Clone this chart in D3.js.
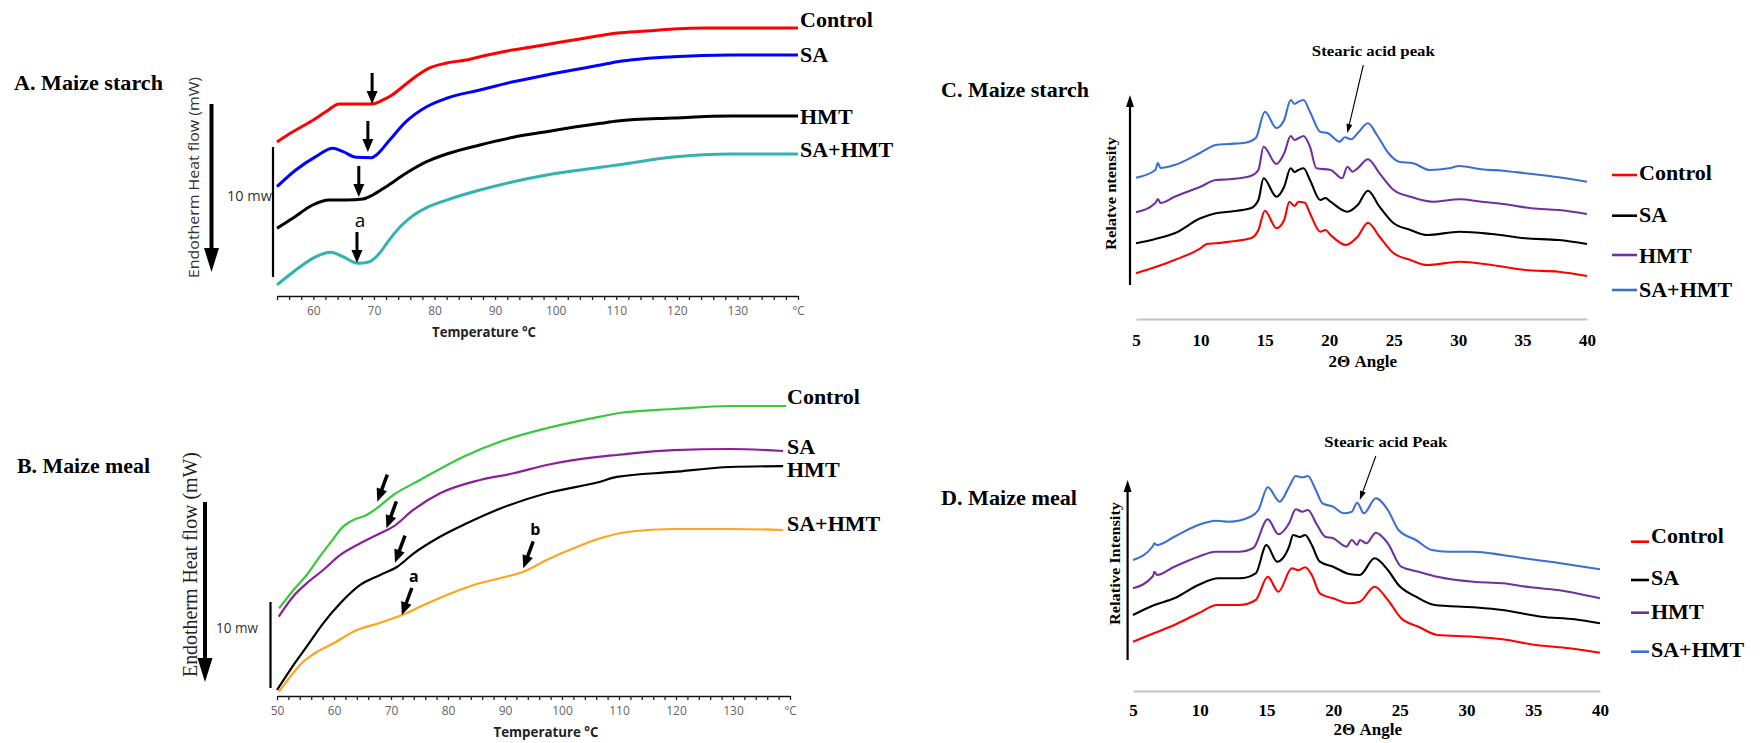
<!DOCTYPE html>
<html><head><meta charset="utf-8">
<script src="https://cdn.jsdelivr.net/npm/d3@7"></script>
<style>body{margin:0;background:#fff}svg{display:block}</style>
</head><body>
<svg id="chart" width="1760" height="743"></svg>
<script>
// ================= DATA =================
const seriesNames = ["Control", "SA", "HMT", "SA+HMT"];

// A. Maize starch DSC: [temperature °C, heat flow (mW, relative)]
const starchControl = [[54,11.85],[56,12.46],[58,13.0],[60,13.54],[62,14.15],[64.3,14.77],[67,14.77],[69.7,14.77],[71.5,15.08],[73,15.46],[75.3,16.31],[77.5,17.08],[79.2,17.54],[82,17.92],[85.2,18.15],[88,18.46],[92,18.85],[96,19.15],[100.9,19.54],[105,19.85],[110.2,20.23],[115,20.38],[119.4,20.54],[125,20.62],[130,20.62],[140,20.62]];
const starchSA = [[54,8.41],[57.1,9.69],[60.4,10.72],[63.2,11.36],[64.9,11.1],[67.1,10.67],[69.6,10.64],[70.4,10.85],[72.6,12.0],[75.3,13.41],[78.7,14.56],[82,15.21],[87.5,15.85],[93,16.48],[98.5,17.0],[107.4,17.77],[110.2,18.02],[119.4,18.41],[128.9,18.54],[140,18.54]];
const starchHMT = [[54,5.21],[56.6,5.98],[59.9,7.0],[62.6,7.38],[65.4,7.38],[68.2,7.46],[69.8,7.77],[72,8.41],[75.3,9.44],[78.7,10.33],[82,10.92],[87.5,11.62],[93,12.21],[98.5,12.64],[107.4,13.28],[110.2,13.46],[119.4,13.69],[128.9,13.85],[140,13.85]];
const starchSAHMT = [[54,0.85],[57.1,2.0],[59.9,2.9],[62.9,3.36],[64.9,3.02],[67.3,2.52],[69.3,2.64],[70.9,3.28],[72.5,4.3],[74.5,5.4],[76.5,6.2],[78.7,6.8],[82,7.38],[87.5,8.15],[93,8.79],[98.5,9.31],[107.4,9.9],[110.2,10.08],[119.4,10.69],[128.9,10.92],[140,10.92]];
const starchOnsetT = [69.7, 69.0, 67.5, 67.2];
const starchOnsetV = [14.77, 11.08, 7.62, 2.54];
const starchOnsetLabel = ["", "", "", "a"];

// B. Maize meal DSC
const mealControl = [[50.35,10.19],[52.9,12.33],[55.2,14.07],[57.5,16.2],[59.3,17.76],[61.6,19.69],[63.4,20.47],[65.7,21.05],[67.5,21.83],[70.4,23.37],[75.1,25.12],[82.7,27.83],[89.1,29.57],[97.3,31.13],[106.7,32.48],[110,32.91],[119.5,33.37],[129.5,33.72],[139.3,33.72]];
const mealSA = [[50.3,9.22],[52.8,11.55],[55.2,13.1],[58.1,14.65],[61.1,16.4],[64.6,17.76],[68.1,18.92],[70.4,19.69],[73.9,21.63],[78.6,23.57],[85.6,25.12],[91.5,25.9],[97.3,26.86],[106.7,27.83],[109.6,28.02],[119.5,28.6],[129.5,28.72],[138.8,28.49]];
const mealHMT = [[50,0.7],[52.3,3.02],[55.2,5.73],[58.1,8.45],[61.1,10.78],[64.6,12.91],[68.1,14.07],[71.1,15.03],[74,16.59],[78.6,18.52],[83.3,20.08],[89.3,21.83],[97.3,23.57],[106.7,24.92],[109.6,25.47],[119.5,26.05],[129.5,26.63],[138.8,26.74]];
const mealSAHMT = [[50.35,0.5],[52.3,2.24],[54.6,3.99],[56.4,4.88],[59.9,6.13],[64,7.67],[68.1,8.52],[71.9,9.42],[75.1,10.38],[79.8,11.74],[84.5,12.91],[89.1,13.69],[93.2,14.45],[97.3,15.81],[102,17.17],[106.7,18.34],[111.7,19.1],[119.5,19.42],[129.5,19.42],[138.8,19.3]];
const mealOnsetT = [67.6, 69.2, 70.7, 71.9, 93.2];
const mealOnsetV = [22.6, 19.5, 15.5, 9.42, 14.85];
const mealOnsetLabel = ["", "", "", "a", "b"];

const dscTickLabels = [50,60,70,80,90,100,110,120,130];

// C. Maize starch XRD: [2θ, relative intensity]
const xrdStarchControl = [[5,45.7],[6.5,52],[8,59],[10,70.7],[10.5,75],[11.2,75.7],[12.2,77.3],[13.9,80.7],[14.5,89],[15.0,108.3],[15.9,90.7],[16.5,99],[16.9,117.3],[17.3,113],[17.6,117.3],[18.1,116.3],[18.5,105.7],[19.3,87.3],[19.7,89],[20.1,84],[21.3,74],[22.2,82.3],[23.0,96.3],[23.9,82.3],[25,65.7],[26.3,59],[27.6,54],[30.1,57.3],[32.6,54],[35.2,49],[37.8,47.3],[40,43]];
const xrdStarchSA = [[5,75.7],[6.5,80],[8,85.7],[10,100.7],[11.2,105.7],[12.2,107.3],[13.9,110.7],[14.5,119],[14.9,140.7],[15.9,122.3],[16.5,132.3],[17,150.7],[17.3,147],[17.6,149],[18,150.7],[18.5,139],[19.3,119],[19.7,121],[20.1,117.3],[21.4,107.3],[22.2,114],[23,128.3],[23.9,112.3],[25,95.7],[26.3,89],[27.6,84],[30.1,87.3],[32.6,85],[35.2,80.7],[37.8,79],[40,75]];
const xrdStarchHMT = [[5,106.7],[6.5,116],[6.7,120],[6.9,116],[8,122.3],[10,132.3],[11.2,139],[12.2,139.7],[13.9,143],[14.5,149],[14.9,172.3],[15.9,155],[16.5,165.7],[17,183],[17.3,179],[17.6,180.7],[18,183],[18.5,172.3],[19,150.7],[20.1,149],[21,140.7],[21.4,152.3],[21.8,147.3],[22.2,150.7],[23,159.7],[23.9,145.7],[25,129],[26.3,122.3],[28,117.3],[30.1,119.7],[31.8,117.3],[33.5,115],[35.7,110.7],[37.8,109],[40,105]];
const xrdStarchSAHMT = [[5,141.3],[6.5,149],[6.7,156],[6.9,151],[8,154],[10,166.3],[11.2,174],[12.2,175],[13.5,176.3],[14.3,181],[15,207.3],[15.9,191],[16.5,199],[17,219],[17.3,215],[17.6,217.3],[18,219],[18.5,207.3],[19.3,187.3],[19.9,185.7],[20.8,177.3],[21.2,181.7],[21.7,179.7],[22.2,185.7],[23,195.7],[23.7,184],[24.6,165.7],[25.4,157.3],[26.5,155.7],[27.8,149],[29.3,150.7],[30.1,153],[31.8,149.7],[33.5,148.3],[35.2,145.7],[37.8,141.7],[40,137.3]];

// D. Maize meal XRD
const xrdMealControl = [[5,49.3],[6.6,58],[8.1,66],[9.9,77.7],[11.3,86],[13,86],[14.2,91],[15.1,114.3],[15.9,99.3],[16.9,122.7],[17.4,121],[17.9,123.7],[18.4,116],[19,97.7],[20,92.7],[21.2,87.7],[22,89.3],[23.1,104.3],[24.1,91],[25.1,72.7],[26.4,64.3],[27.8,56],[30.5,54.3],[32.7,51.7],[35.2,46],[37.7,42.7],[40,38.3]];
const xrdMealSA = [[5,76],[6.6,86],[8.1,92.7],[9.9,106],[11.4,112.7],[13,112.7],[14.2,117.7],[15,146],[15.8,129.3],[16.7,144.3],[17,156],[17.5,154],[17.9,156],[18.4,146],[19,129.3],[20,124.3],[21.2,117],[22,116],[23.1,132.7],[24.1,121],[24.9,106],[26.2,94.3],[27.6,86],[30.5,83.7],[32.7,81],[35.6,74.3],[38.1,71.7],[40,67.7]];
const xrdMealHMT = [[5,102.7],[6.5,115],[6.6,119.3],[6.8,116],[8.1,124.3],[9.9,134.3],[11.2,139.3],[13,139.3],[14,142.7],[15.1,171.7],[15.9,156.7],[16.7,167.7],[17.2,181.7],[17.7,179.3],[18.1,181],[18.8,166],[19.4,154.3],[20,152.7],[21,144.3],[21.4,151],[21.8,146],[22,151],[22.5,147.7],[23.2,158.3],[24.1,147.7],[25.1,124.3],[26.4,119.3],[27.8,114.3],[30.5,109.3],[32.7,107.7],[34.8,103.7],[36.8,101],[40,92.7]];
const xrdMealSAHMT = [[5,131],[6.5,145],[6.6,147.7],[6.8,146],[8.1,154.3],[9.9,166],[11.2,170.3],[12.2,169.3],[13.8,174.3],[14.4,181],[15.1,203.7],[16,189.3],[16.7,204.3],[17.2,215],[17.7,213.7],[18.1,215],[18.7,201],[19.2,187.7],[20,184.3],[20.8,177.7],[21.4,179.3],[21.8,188.3],[22.3,177.7],[23.2,192.7],[24.1,181],[24.9,161],[26.2,151],[27.4,141],[28.6,139.3],[30.5,139.3],[32.7,136],[34.8,131.7],[36.8,128.3],[40,121.7]];
const xrdTicks = [5,10,15,20,25,30,35,40];
const stearicT = [21.4, 22.0];
const stearicV = [186, 191];

// ================= DRAWING =================
const svg = d3.select("#chart");
const serif = "'Liberation Serif','Times New Roman',serif";
const sans = "'Open Sans','Noto Sans',sans-serif";

function txt(x, y, s, o) {
  o = o || {};
  const t = svg.append("text").attr("x", x).attr("y", y).text(s)
    .attr("font-family", o.family || serif).attr("font-size", o.size || 22)
    .attr("font-weight", o.weight || "bold").attr("fill", o.fill || "#000")
    .attr("text-anchor", o.anchor || "start");
  if (o.len) t.attr("textLength", o.len).attr("lengthAdjust", "spacingAndGlyphs");
  if (o.rot) t.attr("transform", `rotate(-90,${x},${y})`);
  return t;
}
function arrow(x1, y1, x2, y2, w, hl, hw) {
  const dx = x2 - x1, dy = y2 - y1, L = Math.hypot(dx, dy), ux = dx / L, uy = dy / L;
  const bx = x2 - ux * hl, by = y2 - uy * hl;
  svg.append("line").attr("x1", x1).attr("y1", y1).attr("x2", bx + ux).attr("y2", by + uy)
    .attr("stroke", "#000").attr("stroke-width", w);
  svg.append("path").attr("d", `M${x2},${y2}L${bx - uy * hw / 2},${by + ux * hw / 2}L${bx + uy * hw / 2},${by - ux * hw / 2}Z`)
    .attr("fill", "#000");
}

// ---------- Panel A ----------
const xA = d3.scaleLinear().domain([54, 140]).range([277, 798]);
const yA = d3.scaleLinear().domain([0, 22]).range([296, 10]);
const starchData = [starchControl, starchSA, starchHMT, starchSAHMT];
const starchColors = ["#ff0000", "#0000ff", "#000000", "#33b3b0"];
const lineA = d3.line().x(d => xA(d[0])).y(d => yA(d[1])).curve(d3.curveMonotoneX);
starchData.forEach((s, i) => svg.append("path").attr("d", lineA(s)).attr("fill", "none")
  .attr("stroke", starchColors[i]).attr("stroke-width", 3));

function dscAxis(x, y0, start) {
  const ax = d3.axisBottom(x).tickValues(d3.range(start, 141, 2)).tickSize(4).tickSizeOuter(0).tickPadding(6)
    .tickFormat(d => d === 140 ? "°C" : (dscTickLabels.includes(d) ? d : ""));
  const g = svg.append("g").attr("transform", `translate(0,${y0})`).call(ax);
  g.select(".domain").attr("stroke", "#111").attr("stroke-width", 1.6);
  g.selectAll(".tick line").attr("stroke", "#222").attr("stroke-width", 1.3);
  g.selectAll(".tick text").attr("font-family", sans).attr("font-size", 12).attr("fill", "#666");
}
dscAxis(xA, 296, 54);

const starchLabelY = [27, 62, 124, 157];
seriesNames.forEach((n, i) => txt(800, starchLabelY[i], n, {size: 22}));
starchOnsetT.forEach((t, i) => {
  const tx = xA(t), ty = yA(starchOnsetV[i]);
  arrow(tx, ty - 31, tx, ty, 3, 13, 11);
  if (starchOnsetLabel[i]) txt(tx + 3, ty - 36, starchOnsetLabel[i], {family: sans, weight: "normal", size: 19, anchor: "middle"});
});
txt(14, 90, "A. Maize starch", {size: 22, len: 149});
arrow(211.5, 104, 211.5, 272, 4, 24, 15);
txt(199, 177.5, "Endotherm Heat flow (mW)", {family: sans, weight: "normal", size: 15, fill: "#333", anchor: "middle", rot: true, len: 201});
svg.append("line").attr("x1", 273).attr("x2", 273).attr("y1", 147).attr("y2", 147 + (yA(0) - yA(10)))
  .attr("stroke", "#000").attr("stroke-width", 2.2);
txt(249.5, 201, "10 mw", {family: sans, weight: "normal", size: 14, fill: "#333", anchor: "middle", len: 45});
txt(484, 337, "Temperature °C", {family: sans, weight: "bold", size: 15, fill: "#222", anchor: "middle", len: 104});

// ---------- Panel B ----------
const xB = d3.scaleLinear().domain([50, 140]).range([277, 790]);
const yB = d3.scaleLinear().domain([0, 35]).range([696, 395]);
const mealData = [mealControl, mealSA, mealHMT, mealSAHMT];
const mealColors = ["#38c93a", "#8b1f97", "#000000", "#ffa41c"];
const lineB = d3.line().x(d => xB(d[0])).y(d => yB(d[1])).curve(d3.curveMonotoneX);
mealData.forEach((s, i) => svg.append("path").attr("d", lineB(s)).attr("fill", "none")
  .attr("stroke", mealColors[i]).attr("stroke-width", 2.2));
dscAxis(xB, 696, 50);
const mealLabelY = [404, 454, 477, 531];
seriesNames.forEach((n, i) => txt(787, mealLabelY[i], n, {size: 22}));
mealOnsetT.forEach((t, i) => {
  const tx = xB(t), ty = yB(mealOnsetV[i]);
  arrow(tx + 10, ty - 27, tx, ty, 3.5, 13, 11);
  if (mealOnsetLabel[i]) txt(tx + 12, ty - 33, mealOnsetLabel[i], {family: sans, weight: "bold", size: 16, anchor: "middle"});
});
txt(17, 473, "B. Maize meal", {size: 22, len: 133});
arrow(205, 502, 205, 682, 4, 24, 15);
txt(197, 564.5, "Endotherm Heat flow (mW)", {family: serif, weight: "normal", size: 20, fill: "#222", anchor: "middle", rot: true, len: 225});
svg.append("line").attr("x1", 270.5).attr("x2", 270.5).attr("y1", 602).attr("y2", 602 + (yB(0) - yB(10)))
  .attr("stroke", "#000").attr("stroke-width", 2.2);
txt(237, 633, "10 mw", {family: sans, weight: "normal", size: 15, fill: "#333", anchor: "middle", len: 42});
txt(546, 737, "Temperature °C", {family: sans, weight: "bold", size: 15, fill: "#222", anchor: "middle", len: 105});

// ---------- XRD panels ----------
const xrdColors = ["#ff0000", "#000000", "#7030a0", "#3b6fd1"];
function xrdPanel(cfg) {
  const x = d3.scaleLinear().domain([5, 40]).range(cfg.xr);
  const y = d3.scaleLinear().domain(cfg.yd).range(cfg.yr);
  const line = d3.line().x(d => x(d[0])).y(d => y(d[1])).curve(d3.curveMonotoneX);
  cfg.data.forEach((s, i) => svg.append("path").attr("d", line(s)).attr("fill", "none")
    .attr("stroke", xrdColors[i]).attr("stroke-width", 2.1).attr("stroke-linejoin", "round"));
  const ax = d3.axisBottom(x).tickValues(xrdTicks).tickSize(0).tickSizeOuter(0).tickPadding(cfg.pad);
  const g = svg.append("g").attr("transform", `translate(0,${cfg.yr[0]})`).call(ax);
  g.select(".domain").attr("stroke", "#c4c4c4").attr("stroke-width", 2.2);
  g.selectAll(".tick text").attr("font-family", serif).attr("font-weight", "bold").attr("font-size", 17).attr("fill", "#000");
  txt(x(22.6), cfg.xlabY, "2Θ Angle", {size: 17, anchor: "middle"});
  arrow(cfg.ax, cfg.ay[0], cfg.ax, cfg.ay[1], 2.2, 12, 8);
  txt(cfg.ylx, cfg.yly, cfg.ylab, {size: 15, anchor: "middle", rot: true, len: cfg.ylen});
  txt(cfg.tx, cfg.ty, cfg.title, {size: 22, len: cfg.tlen});
  const px = x(cfg.st), py = y(cfg.sv);
  arrow(px + 16, py - cfg.alen, px, py, 1.1, 9, 6);
  txt(px + 26, py - cfg.alen - 9, cfg.note, {size: 15, anchor: "middle", len: 123});
  seriesNames.forEach((n, i) => {
    svg.append("line").attr("x1", cfg.lx[0]).attr("x2", cfg.lx[1]).attr("y1", cfg.ly[i]).attr("y2", cfg.ly[i])
      .attr("stroke", xrdColors[i]).attr("stroke-width", 2.6);
    txt(cfg.lx[1] + 2, cfg.lb[i], n, {size: 22});
  });
}
xrdPanel({xr: [1136, 1587], yd: [0, 230], yr: [319, 89], pad: 15, xlabY: 367,
  data: [xrdStarchControl, xrdStarchSA, xrdStarchHMT, xrdStarchSAHMT],
  ax: 1130, ay: [285, 95], ylx: 1116, yly: 193.5, ylab: "Relatve ntensity", ylen: 113,
  tx: 941, ty: 97, title: "C. Maize starch", tlen: 148,
  st: stearicT[0], sv: stearicV[0], alen: 68, note: "Stearic acid peak",
  lx: [1612, 1637], ly: [175, 215.7, 255, 290], lb: [180, 221.7, 262.7, 296.7]});
xrdPanel({xr: [1133, 1600], yd: [0, 240], yr: [691, 451], pad: 13, xlabY: 735,
  data: [xrdMealControl, xrdMealSA, xrdMealHMT, xrdMealSAHMT],
  ax: 1127.6, ay: [660, 480], ylx: 1120, yly: 563.5, ylab: "Relative Intensity", ylen: 123,
  tx: 941, ty: 505, title: "D. Maize meal", tlen: 136,
  st: stearicT[1], sv: stearicV[1], alen: 44, note: "Stearic acid Peak",
  lx: [1631, 1649], ly: [541.7, 580, 612.7, 651.7], lb: [543, 585, 619, 657]});
</script>
</body></html>
